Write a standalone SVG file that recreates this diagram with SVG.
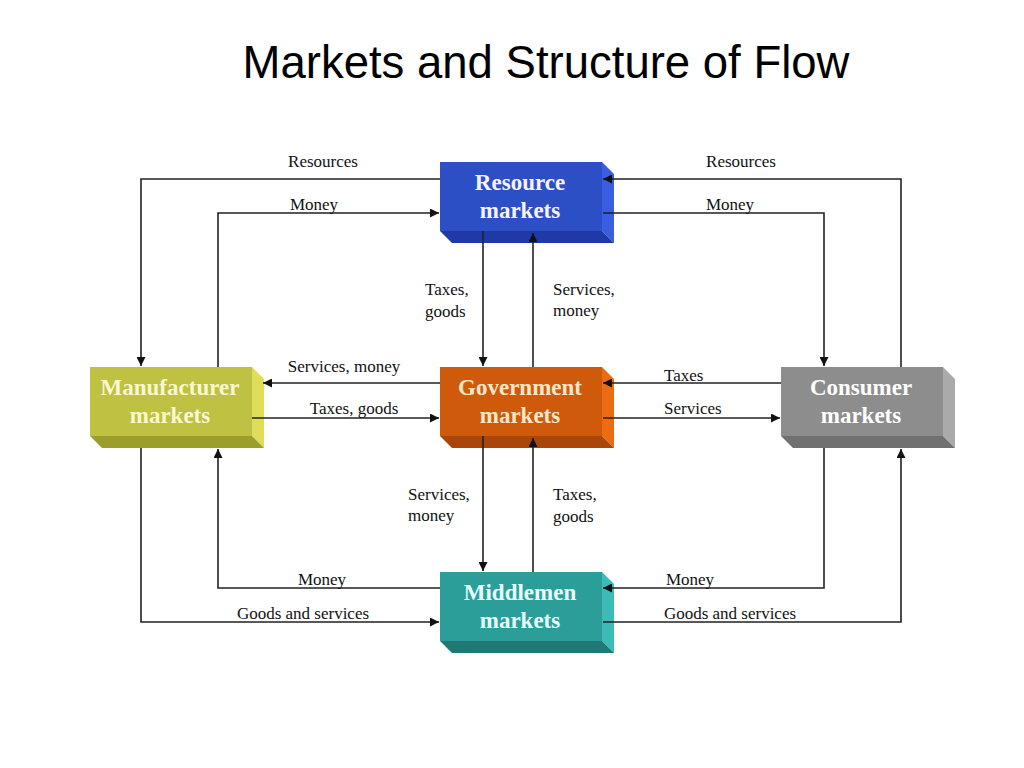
<svg xmlns="http://www.w3.org/2000/svg" width="1024" height="768" viewBox="0 0 1024 768">
<style>
.title{font-family:"Liberation Sans",Arial,sans-serif;font-size:45.5px;fill:#000}
.lbl{font-family:"Liberation Serif","Times New Roman",serif;font-size:17px;fill:#111}
.bt{font-family:"Liberation Serif","Times New Roman",serif;font-size:23px;font-weight:bold;text-anchor:middle}
.ln{fill:none;stroke:#222;stroke-width:1.6}
</style>
<defs>
<marker id="ah" viewBox="0 0 10 10" refX="10" refY="5" markerWidth="11" markerHeight="9" markerUnits="userSpaceOnUse" orient="auto">
<path d="M0,0 L10,5 L0,10 z" fill="#111"/>
</marker>
</defs>
<rect width="1024" height="768" fill="#fff"/>
<text class="title" x="546" y="78" text-anchor="middle">Markets and Structure of Flow</text>

<g id="resource" transform="translate(440,162)">
<polygon points="162,0 174,12 174,81 162,69" fill="#3a5ee0"/>
<polygon points="0,69 162,69 174,81 12,81" fill="#1f3aa8"/>
<rect x="0" y="0" width="162" height="69" fill="#2d4fc6"/>
<text class="bt" x="80" y="28" fill="#f4f4ff">Resource</text>
<text class="bt" x="80" y="56" fill="#f4f4ff">markets</text>
</g>

<g id="manufacturer" transform="translate(90,367)">
<polygon points="162,0 174,12 174,81 162,69" fill="#dede58"/>
<polygon points="0,69 162,69 174,81 12,81" fill="#9c9e2c"/>
<rect x="0" y="0" width="162" height="69" fill="#bfc142"/>
<text class="bt" x="80" y="28" fill="#f8f8d0">Manufacturer</text>
<text class="bt" x="80" y="56" fill="#f8f8d0">markets</text>
</g>

<g id="government" transform="translate(440,367)">
<polygon points="162,0 174,12 174,81 162,69" fill="#ec6c12"/>
<polygon points="0,69 162,69 174,81 12,81" fill="#a9460a"/>
<rect x="0" y="0" width="162" height="69" fill="#d05a0c"/>
<text class="bt" x="80" y="28" fill="#fbe6c8">Government</text>
<text class="bt" x="80" y="56" fill="#fbe6c8">markets</text>
</g>

<g id="consumer" transform="translate(781,367)">
<polygon points="162,0 174,12 174,81 162,69" fill="#aaaaaa"/>
<polygon points="0,69 162,69 174,81 12,81" fill="#707070"/>
<rect x="0" y="0" width="162" height="69" fill="#8d8d8d"/>
<text class="bt" x="80" y="28" fill="#ffffff">Consumer</text>
<text class="bt" x="80" y="56" fill="#ffffff">markets</text>
</g>

<g id="middlemen" transform="translate(440,572)">
<polygon points="162,0 174,12 174,81 162,69" fill="#3cbcb6"/>
<polygon points="0,69 162,69 174,81 12,81" fill="#1f7a76"/>
<rect x="0" y="0" width="162" height="69" fill="#2c9e99"/>
<text class="bt" x="80" y="28" fill="#e6ffff">Middlemen</text>
<text class="bt" x="80" y="56" fill="#e6ffff">markets</text>
</g>

<g id="connectors">
<path class="ln" d="M440,179 H141 V366" marker-end="url(#ah)"/>
<path class="ln" d="M218,367 V213 H439" marker-end="url(#ah)"/>
<path class="ln" d="M901,367 V179 H603" marker-end="url(#ah)"/>
<path class="ln" d="M603,213 H824 V366" marker-end="url(#ah)"/>
<path class="ln" d="M440,588 H218 V449" marker-end="url(#ah)"/>
<path class="ln" d="M141,448 V622 H439" marker-end="url(#ah)"/>
<path class="ln" d="M824,448 V588 H603" marker-end="url(#ah)"/>
<path class="ln" d="M603,622 H901 V449" marker-end="url(#ah)"/>
<path class="ln" d="M440,383 H263" marker-end="url(#ah)"/>
<path class="ln" d="M252,418 H439" marker-end="url(#ah)"/>
<path class="ln" d="M781,383 H603" marker-end="url(#ah)"/>
<path class="ln" d="M603,418 H780" marker-end="url(#ah)"/>
<path class="ln" d="M483,231 V366" marker-end="url(#ah)"/>
<path class="ln" d="M533,367 V233" marker-end="url(#ah)"/>
<path class="ln" d="M483,436 V571" marker-end="url(#ah)"/>
<path class="ln" d="M533,572 V438" marker-end="url(#ah)"/>
</g>

<g id="labels">
<text class="lbl" x="323" y="167" text-anchor="middle">Resources</text>
<text class="lbl" x="314" y="210" text-anchor="middle">Money</text>
<text class="lbl" x="741" y="167" text-anchor="middle">Resources</text>
<text class="lbl" x="730" y="210" text-anchor="middle">Money</text>
<text class="lbl" x="425" y="295">Taxes,</text>
<text class="lbl" x="425" y="317">goods</text>
<text class="lbl" x="553" y="295">Services,</text>
<text class="lbl" x="553" y="316">money</text>
<text class="lbl" x="344" y="372" text-anchor="middle">Services, money</text>
<text class="lbl" x="354" y="414" text-anchor="middle">Taxes, goods</text>
<text class="lbl" x="664" y="381">Taxes</text>
<text class="lbl" x="664" y="414">Services</text>
<text class="lbl" x="408" y="500">Services,</text>
<text class="lbl" x="408" y="521">money</text>
<text class="lbl" x="553" y="500">Taxes,</text>
<text class="lbl" x="553" y="522">goods</text>
<text class="lbl" x="322" y="585" text-anchor="middle">Money</text>
<text class="lbl" x="303" y="619" text-anchor="middle">Goods and services</text>
<text class="lbl" x="690" y="585" text-anchor="middle">Money</text>
<text class="lbl" x="730" y="619" text-anchor="middle">Goods and services</text>
</g>
</svg>
